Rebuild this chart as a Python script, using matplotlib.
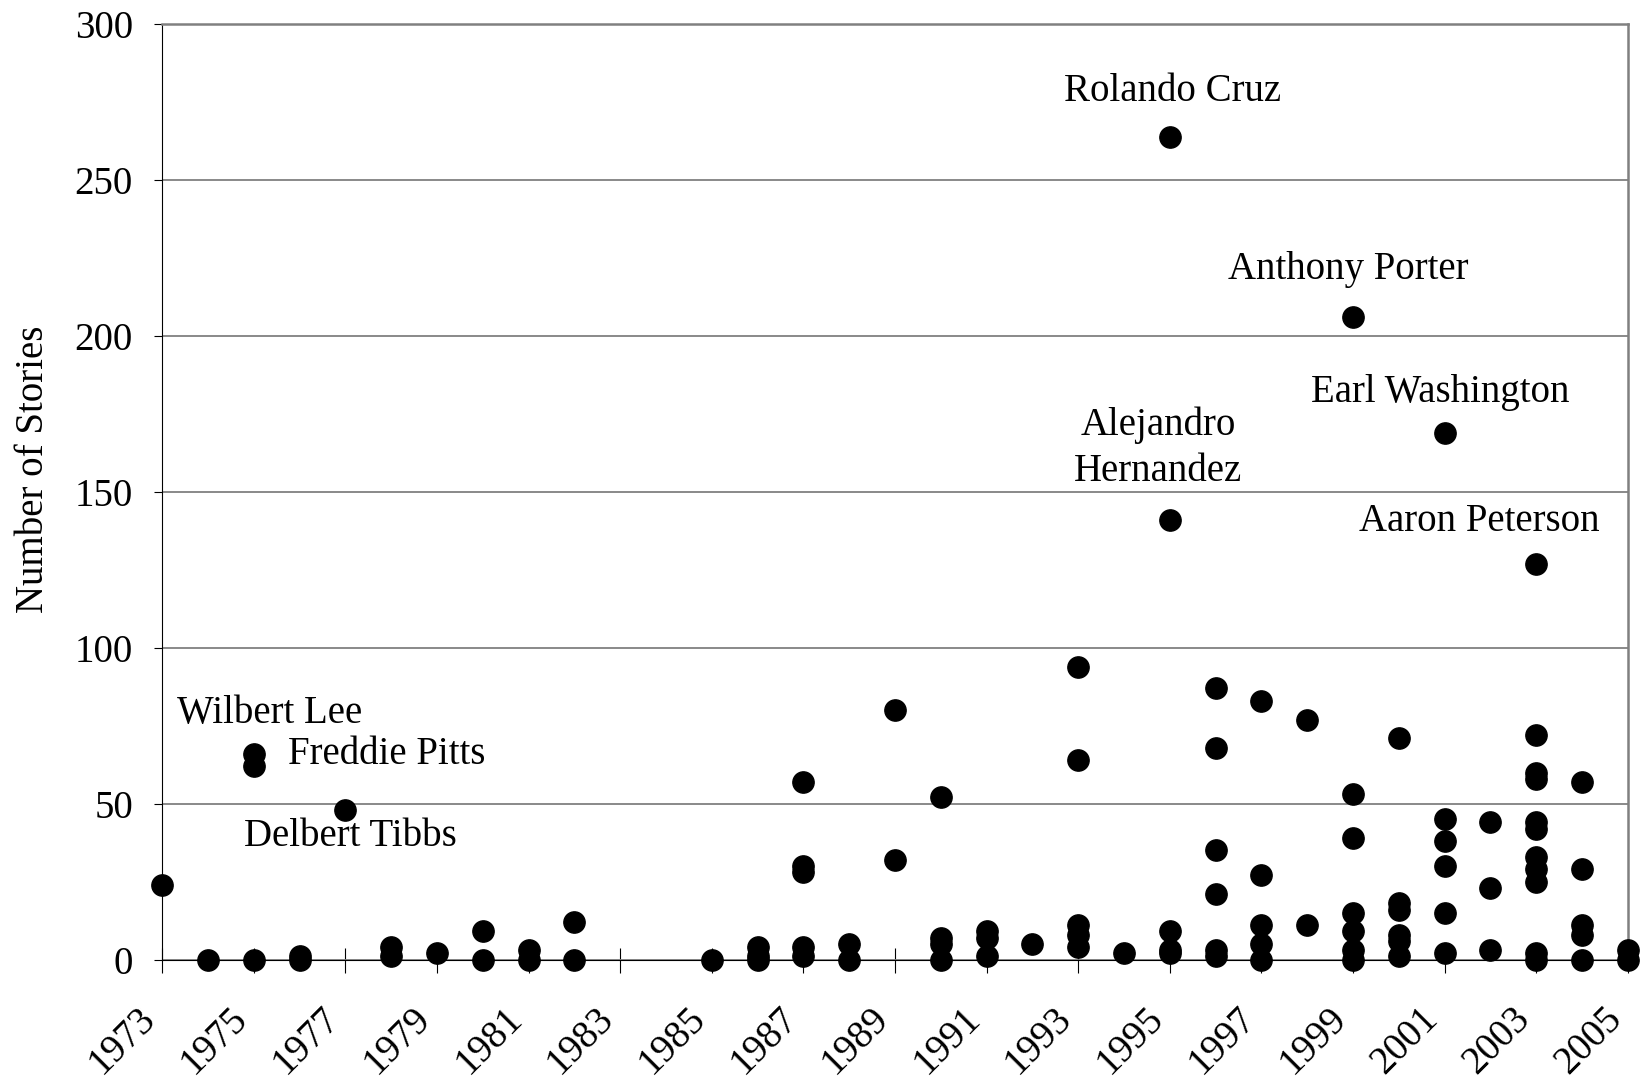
import matplotlib
matplotlib.use("Agg")
import matplotlib.pyplot as plt
from matplotlib.transforms import ScaledTranslation

# one entry per exoneree: year and number of stories
case_year = [1973, 1974, 1975, 1975, 1975, 1976, 1976, 1977, 1978, 1978,
             1979, 1980, 1980, 1981, 1981, 1982, 1982,
             1985, 1986, 1986, 1986,
             1987, 1987, 1987, 1987, 1987, 1988, 1988, 1989, 1989,
             1990, 1990, 1990, 1990, 1991, 1991, 1991, 1992,
             1993, 1993, 1993, 1993, 1993, 1994,
             1995, 1995, 1995, 1995, 1995,
             1996, 1996, 1996, 1996, 1996, 1996,
             1997, 1997, 1997, 1997, 1997, 1998, 1998,
             1999, 1999, 1999, 1999, 1999, 1999, 1999,
             2000, 2000, 2000, 2000, 2000, 2000,
             2001, 2001, 2001, 2001, 2001, 2001,
             2002, 2002, 2002,
             2003, 2003, 2003, 2003, 2003, 2003, 2003, 2003, 2003, 2003, 2003,
             2004, 2004, 2004, 2004, 2004, 2005, 2005]
case_stories = [24, 0, 66, 62, 0, 0, 1, 48, 4, 1,
                2, 9, 0, 3, 0, 12, 0,
                0, 4, 1, 0,
                57, 30, 28, 4, 1, 5, 0, 80, 32,
                52, 7, 5, 0, 9, 7, 1, 5,
                94, 64, 11, 8, 4, 2,
                264, 141, 9, 3, 2,
                87, 68, 35, 21, 3, 1,
                83, 27, 11, 5, 0, 77, 11,
                206, 53, 39, 15, 9, 3, 0,
                71, 18, 16, 8, 6, 1,
                169, 45, 38, 30, 15, 2,
                44, 23, 3,
                127, 72, 60, 58, 44, 42, 33, 29, 25, 2, 0,
                57, 29, 11, 8, 0, 3, 0]

label_names = ["Rolando Cruz", "Anthony Porter", "Earl Washington",
               "Alejandro\nHernandez", "Aaron Peterson",
               "Wilbert Lee", "Freddie Pitts", "Delbert Tibbs"]
label_x = [1995.05, 1998.9, 2000.9, 1994.75, 2001.75, 1975.35, 1977.9, 1977.1]
label_y = [278.5, 221.5, 182, 164, 140.5, 79, 65.7, 39.4]

year_ticks = list(range(1973, 2006, 2))

plt.rcParams['font.family'] = ['Liberation Serif', 'DejaVu Serif']

fig = plt.figure(figsize=(16.46, 10.83), dpi=100)
ax = fig.add_axes([0.0985, 0.114, 0.8905, 0.8635])

ax.scatter(case_year, case_stories, s=235, color='black', zorder=3, clip_on=False)

for name, x, y in zip(label_names, label_x, label_y):
    ax.text(x, y, name, fontsize=28, ha='center', va='center', linespacing=1.3)

ax.set_xlim(1973, 2005)
ax.set_ylim(0, 300)
ax.set_yticks(range(0, 301, 50))
ax.set_xticks(year_ticks)

ax.grid(axis='y', color='#808080', linewidth=1.3, zorder=0)
ax.set_axisbelow(True)

for side in ['top', 'right']:
    ax.spines[side].set_color('#808080')
    ax.spines[side].set_linewidth(1.8)
ax.spines['left'].set_color('black')
ax.spines['bottom'].set_color('black')

ax.tick_params(axis='y', direction='out', length=6, labelsize=28, pad=15)
ax.tick_params(axis='x', direction='inout', length=18, labelsize=28, pad=20)

ax.set_xticklabels([str(y) for y in year_ticks], rotation=45, ha='right', va='top',
                   rotation_mode='anchor')

# excel puts the rotated labels a bit left of the ticks
shift = ScaledTranslation(-18 / 72, 0, fig.dpi_scale_trans)
for tick in ax.xaxis.get_major_ticks():
    tick.label1.set_transform(tick.label1.get_transform() + shift)

ax.set_ylabel("Number of Stories", fontsize=28)
ax.yaxis.set_label_coords(-0.075, 0.524)

fig.savefig("out.png", dpi=100)
